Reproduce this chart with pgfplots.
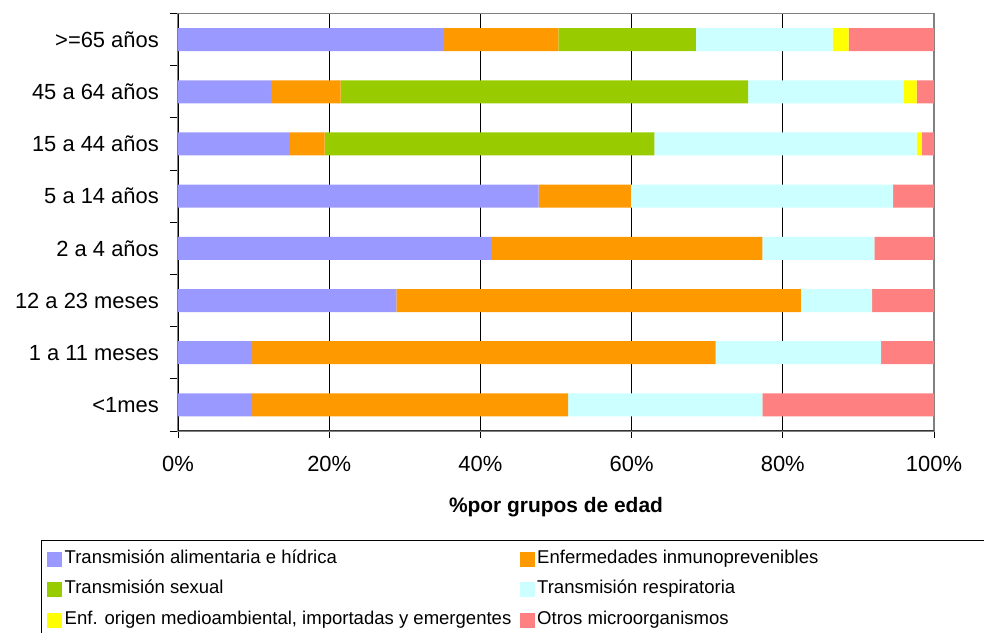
\documentclass[border=0pt]{standalone}
\usepackage{fontspec}
\setmainfont{Liberation Sans}
\usepackage{pgfplots}
\pgfplotsset{compat=1.18}
\definecolor{cPur}{HTML}{9999FF}
\definecolor{cOra}{HTML}{FF9900}
\definecolor{cGre}{HTML}{99CC00}
\definecolor{cCya}{HTML}{CCFFFF}
\definecolor{cYel}{HTML}{FFFF00}
\definecolor{cPin}{HTML}{FF8080}
\begin{document}
\begin{tikzpicture}
\begin{axis}[
  at={(178bp,202bp)}, anchor=south west,
  scale only axis, width=756bp, height=417.5bp,
  xbar stacked, bar width=0.44,
  xmin=0, xmax=100, ymin=-0.5, ymax=7.5,
  xtick={0,20,40,60,80,100},
  xticklabels={0\%,20\%,40\%,60\%,80\%,100\%},
  ytick={0,1,2,3,4,5,6,7},
  yticklabels={{<1mes},{1 a 11 meses},{12 a 23 meses},{2 a 4 años},{5 a 14 años},{15 a 44 años},{45 a 64 años},{>=65 años}},
  minor ytick={-0.5,0.5,1.5,2.5,3.5,4.5,5.5,6.5,7.5},
  tick pos=left, tick align=outside,
  major tick length=7bp, minor tick length=8bp,
  major y tick style={draw=none},
  tick style={black, line width=1bp},
  xmajorgrids, grid style={black, line width=0.7bp},
  axis line style={draw=gray, line width=1.3bp},
  ticklabel style={font=\fontsize{22}{26}\selectfont},
  yticklabel style={inner sep=0pt, anchor=east, xshift=-12bp},
  xticklabel style={inner sep=0pt, anchor=base, yshift=-33.7bp},
  xlabel={\textbf{\%por grupos de edad}},
  xlabel style={font=\fontsize{21}{25}\selectfont, at={(axis description cs:0.5,0)}, anchor=base, yshift=-81.7bp, inner sep=0pt},
  legend columns=2,
  legend style={at={(axis description cs:-0.1733,-0.2881)}, anchor=north west,
    draw=none, fill=none, inner sep=0pt, row sep=14.5bp,
    font=\fontsize{18.6}{22}\selectfont,
    nodes={inner sep=0pt, text height=12bp, text depth=4bp},
    /tikz/every odd column/.style={column sep=2.5bp},
    /tikz/every even column/.style={column sep=0bp}},
  legend cell align=left,
  every axis plot/.append style={draw=none},
]
\addplot[fill=cPur, draw=none, legend image code/.code={\fill[cPur] (0bp,-7.5bp) rectangle (15bp,7.5bp);}] coordinates {(9.8,0) (9.8,1) (28.9,2) (41.4,3) (47.7,4) (14.8,5) (12.3,6) (35.2,7)};
\addlegendentry{\makebox[455bp][l]{Transmisión alimentaria e hídrica}}
\addplot[fill=cOra, draw=none, legend image code/.code={\fill[cOra] (0bp,-7.5bp) rectangle (15bp,7.5bp);}] coordinates {(41.8,0) (61.3,1) (53.5,2) (35.9,3) (12.2,4) (4.6,5) (9.2,6) (15.1,7)};
\addlegendentry{Enfermedades inmunoprevenibles}
\addplot[fill=cGre, draw=none, legend image code/.code={\fill[cGre] (0bp,-7.5bp) rectangle (15bp,7.5bp);}] coordinates {(0,0) (0,1) (0,2) (0,3) (0,4) (43.6,5) (53.9,6) (18.2,7)};
\addlegendentry{\makebox[455bp][l]{Transmisión sexual}}
\addplot[fill=cCya, draw=none, legend image code/.code={\fill[cCya] (0bp,-7.5bp) rectangle (15bp,7.5bp);}] coordinates {(25.7,0) (21.9,1) (9.4,2) (14.8,3) (34.7,4) (34.7,5) (20.6,6) (18.1,7)};
\addlegendentry{Transmisión respiratoria}
\addplot[fill=cYel, draw=none, legend image code/.code={\fill[cYel] (0bp,-7.5bp) rectangle (15bp,7.5bp);}] coordinates {(0,0) (0,1) (0,2) (0,3) (0,4) (0.7,5) (1.7,6) (2.1,7)};
\addlegendentry{\makebox[455bp][l]{Enf. origen medioambiental, importadas y emergentes}}
\addplot[fill=cPin, draw=none, legend image code/.code={\fill[cPin] (0bp,-7.5bp) rectangle (15bp,7.5bp);}] coordinates {(22.7,0) (7.0,1) (8.2,2) (7.9,3) (5.4,4) (1.6,5) (2.3,6) (11.3,7)};
\addlegendentry{Otros microorganismos}
\draw[black, line width=1.3bp] (rel axis cs:0,0) -- (rel axis cs:0,1);
\draw[black!80, line width=1.6bp] (rel axis cs:0,0) -- (rel axis cs:1,0);
\end{axis}
\draw[black, line width=1bp] (41.7bp,-5bp) -- (41.7bp,92bp) -- (1000bp,92bp);
\pgfresetboundingbox
\useasboundingbox (0,0) rectangle (984bp,633bp);
\end{tikzpicture}
\end{document}
